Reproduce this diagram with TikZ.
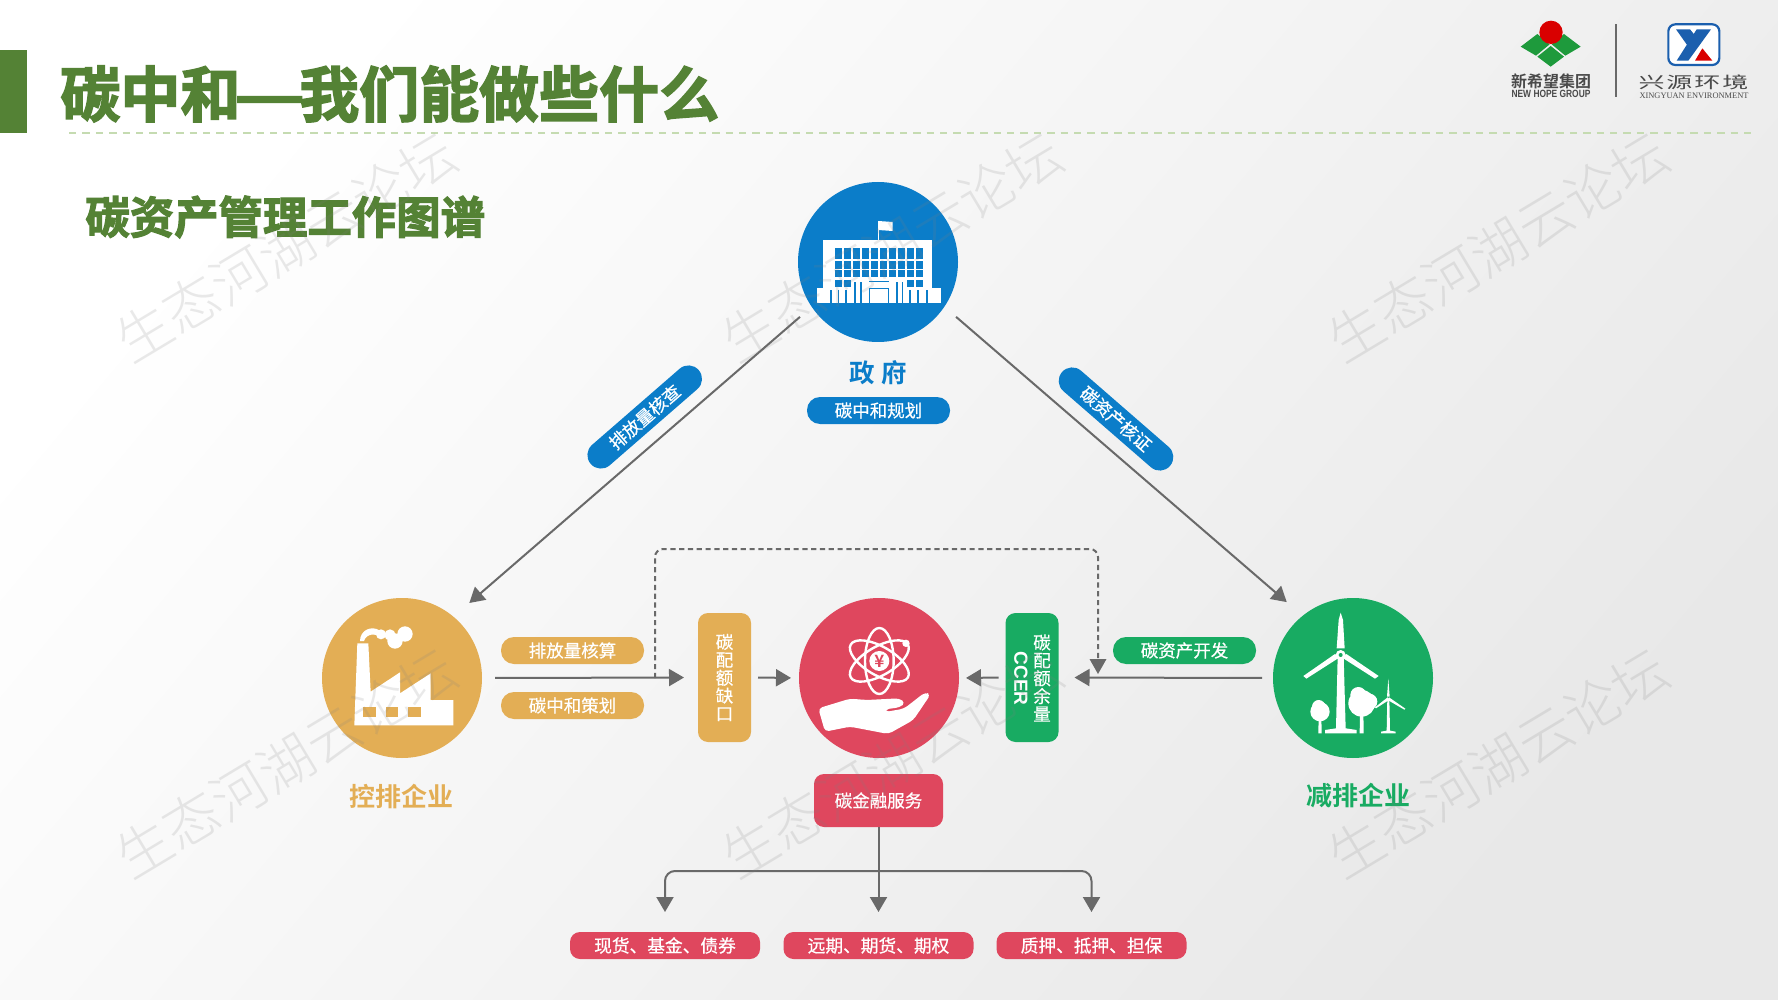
\documentclass[tikz,border=0pt]{standalone}
\usepackage{fontspec}
\usepackage{graphicx}
\usetikzlibrary{arrows.meta,shapes.geometric,calc}
\setmainfont{Noto Sans CJK SC}[FakeBold=.6]
\newfontfamily\heavyfont{Noto Sans CJK SC Bold}[FakeBold=2.6]
\newfontfamily\boldcjk{Noto Sans CJK SC Bold}
\newfontfamily\thinfont{Noto Sans CJK SC Light}
\newfontfamily\plainfont{Noto Sans CJK SC}
\newfontfamily\latinb{Liberation Sans Bold}
\newfontfamily\latins{Liberation Serif}
\newcommand{\fz}[1]{\fontsize{\dimexpr#1pt/2\relax}{\dimexpr#1pt/2\relax}\selectfont}
\definecolor{cBlue}{HTML}{0B7DC9}
\definecolor{cGold}{HTML}{E3AE55}
\definecolor{cRed}{HTML}{DF475E}
\definecolor{cGreen}{HTML}{18AB62}
\definecolor{cTitle}{HTML}{548235}
\definecolor{cLine}{HTML}{696969}
\definecolor{cDash}{HTML}{C5DBB1}
\definecolor{cLogoG}{HTML}{1E9A3C}
\definecolor{cLogoB}{HTML}{1B5FAE}
\definecolor{cLogoT}{HTML}{4A4A4A}
\tikzset{
  disc/.style={circle,fill=#1,minimum size=80pt,inner sep=0pt,outer sep=0pt},
  pill/.style={fill=#1,text=white,rounded corners=6.5pt,minimum width=71.5pt,minimum height=13.5pt,inner sep=0pt,outer sep=0pt,font=\fz{17.5}},
  tallbox/.style={fill=#1,text=white,rounded corners=5pt,minimum width=26.5pt,minimum height=64.5pt,inner sep=0pt,outer sep=0pt,align=center},
  lowpill/.style={fill=cRed,text=white,rounded corners=5pt,minimum width=95pt,minimum height=13.5pt,inner sep=0pt,outer sep=0pt,font=\fz{17.7}},
  flow/.style={draw=cLine,line width=1pt,-{Triangle[length=7.5pt,width=8.5pt]}},
  dashflow/.style={draw=cLine,line width=1pt,dash pattern=on 2.6pt off 1.8pt,rounded corners=4pt},
  wmark/.style={text=gray,opacity=.17,rotate=31,font=\thinfont\fz{55},inner sep=0pt},
  caption/.style={inner sep=0pt,font=\boldcjk\fz{26}},
}
\begin{document}
\begin{tikzpicture}[x=0.5pt,y=-0.5pt]
\useasboundingbox (0,0) rectangle (1778,1000);
\shade[shading=axis,top color=white,middle color=white!96.5!black,bottom color=white!91!black,shading angle=50] (0,0) rectangle (1778,1000);

% header
\fill[cTitle] (0,50) rectangle (27,133);
\node[anchor=west,inner sep=0pt,text=cTitle,font=\heavyfont\fz{60}] (title) at (60,94) {碳中和\hspace{-3pt}\scalebox{1.3}[1]{—}\hspace{-3pt}我们能做些什么};
\coordinate (ruleA) at (69,133);
\coordinate (ruleB) at (1755,133);
\draw[cDash,line width=1.3pt,dash pattern=on 3.7pt off 3pt] (ruleA) -- (ruleB);
\node[anchor=west,inner sep=0pt,text=cTitle,font=\heavyfont\fz{44.4}] (subtitle) at (85,217) {碳资产管理工作图谱};

% new hope logo
\begin{scope}[shift={(1500,15)},scale=1/3]
\fill[cLogoG] (62,95) -- (112,57) -- (149,88) -- (108,122) -- cycle;
\fill[cLogoG] (242,95) -- (192,57) -- (155,88) -- (196,122) -- cycle;
\fill[cLogoG] (152,155) -- (112,125) -- (152,93) -- (192,125) -- cycle;
\fill[red!85!black] (153,52) circle (35);
\end{scope}
\node[inner sep=0pt,text=cLogoT,font=\boldcjk\fz{16}] (nh1) at (1551,81.5) {新希望集团};
\node[inner sep=0pt,text=cLogoT] (nh2) at (1551,93.5) {\scalebox{.8}[1]{\latinb\fz{10.5}NEW HOPE GROUP}};
\fill[cLine] (1614.5,24) rectangle (1616.5,97);
% xingyuan logo
\begin{scope}[shift={(1630,15)},scale=1/3]
\draw[cLogoB,fill=white,line width=1.1pt,rounded corners=3.5pt] (115,28) rectangle (268,150);
\fill[cLogoB] (138,43) -- (180,43) -- (208,78) -- (184,108) -- cycle;
\fill[cLogoB] (200,43) -- (243,43) -- (175,137) -- (140,137) -- cycle;
\fill[red!85!black] (217,100) -- (247,137) -- (195,137) -- cycle;
\end{scope}
\node[inner sep=0pt,text=cLogoT] (xy1) at (1693.5,82.5) {\scalebox{1}[.62]{\plainfont\fz{26}兴\hspace{1pt}源\hspace{1pt}环\hspace{1pt}境}};
\node[inner sep=0pt,text=cLogoT] (xy2) at (1694,95.5) {\latins\fz{8.4}XINGYUAN ENVIRONMENT};

% main discs
\node[disc=cBlue] (gov) at (878,262) {};
\node[disc=cGold] (ctrl) at (402,678) {};
\node[disc=cRed] (fin) at (879,678) {};
\node[disc=cGreen] (cut) at (1353,678) {};

% government icon
\begin{scope}[shift={(780,160)},scale=1/3]
\fill[white] (128,240) rectangle (456,428);
\fill[white] (110,385) rectangle (482,428);
\foreach \c in {165,192,219,246,273,300,327,354,381,408}{
  \fill[cBlue] (\c,265) rectangle ++(20,32);
  \fill[cBlue] (\c,303) rectangle ++(20,23);
  \fill[cBlue] (\c,331) rectangle ++(20,21);
}
\foreach \c in {165,192,381,408}{\fill[cBlue] (\c,360) rectangle ++(20,21);}
\foreach \c in {150,173,196,222,240,348,365,388,412,438}{\fill[cBlue] (\c,390) rectangle ++(5,38);}
\fill[cBlue] (222,366) rectangle ++(5,30);
\fill[cBlue] (240,366) rectangle ++(5,30);
\fill[cBlue] (348,366) rectangle ++(5,30);
\fill[cBlue] (365,366) rectangle ++(5,30);
\draw[cBlue,line width=.6pt] (268,428) -- (268,385) -- (326,385) -- (326,428);
\draw[cBlue,line width=.5pt] (268,366) -- (326,366);
\draw[white,line width=.5pt] (295,240) -- (295,182);
\fill[white] (295,183) -- (338,186) -- (338,213) -- (295,210) -- cycle;
\end{scope}

% factory icon
\begin{scope}[shift={(300,580)},scale=1/3]
\fill[white] (172,190) -- (205,190) -- (212,335) -- (300,277) -- (300,340) -- (392,280) -- (392,360) -- (460,360) -- (460,436) -- (163,436) -- cycle;
\foreach \c in {190,257,325}{\fill[cGold] (\c,380) rectangle ++(38,32);}
\fill[white] (180,183) .. controls (180,150) and (215,135) .. (240,152) -- (250,175) .. controls (225,158) and (200,160) .. (192,183) -- cycle;
\fill[white] (243,163) circle (15);
\fill[white] (285,183) circle (23);
\fill[white] (270,165) circle (17);
\fill[white] (315,162) circle (23);
\end{scope}

% finance icon
\begin{scope}[shift={(800,600)},scale=1/3]
\foreach \a in {90,30,-30}{
  \draw[white,line width=1.2pt,rotate around={\a:(238,183)}] (238,183) ellipse [x radius=99,y radius=43];
}
\fill[white] (238,183) circle (30);
\fill[white] (318,130) circle (11);
\node[inner sep=0pt,text=cRed,font=\boldcjk\fz{17}] (yen) at (238,183) {¥};
\fill[white,rounded corners=2pt] (55,325) -- (150,296) -- (200,300) -- (298,295) -- (316,308) -- (300,322) -- (255,328) -- (255,336) -- (312,326) -- (375,277) -- (392,283) -- (340,360) -- (265,402) -- (150,380) -- (75,395) -- cycle;
\end{scope}

% wind icon
\begin{scope}[shift={(1275,600)},scale=1/3]
\fill[white] (197,38) -- (191,60) -- (185,145) -- (209,145) -- (204,60) -- cycle;
\fill[white] (200,172) -- (300,236) -- (311,228) -- (214,162) -- cycle;
\fill[white] (194,172) -- (94,236) -- (85,228) -- (180,162) -- cycle;
\fill[white] (188,170) -- (183,385) -- (150,390) -- (150,400) -- (245,400) -- (245,390) -- (212,385) -- (206,170) -- cycle;
\fill[white] (197,165) circle (15);
\fill[cGreen] (197,165) circle (6);
\fill[white] (135,335) circle (29);
\fill[white] (131,320) circle (20);
\fill[white] (131,350) -- (139,350) -- (140,400) -- (130,400) -- cycle;
\fill[white] (260,310) circle (40);
\fill[white] (250,285) circle (24);
\fill[white] (283,305) circle (24);
\fill[white] (255,330) -- (265,330) -- (266,400) -- (254,400) -- cycle;
\fill[white] (340,236) -- (336,290) -- (344,290) -- cycle;
\fill[white] (342,292) -- (391,326) -- (388,329) -- (338,300) -- cycle;
\fill[white] (338,292) -- (300,322) -- (303,325) -- (342,300) -- cycle;
\fill[white] (337,295) -- (335,392) -- (318,395) -- (318,400) -- (362,400) -- (362,395) -- (345,392) -- (343,295) -- cycle;
\end{scope}

% labels and pills
\node[inner sep=0pt,text=cBlue,font=\boldcjk\fz{25.5}] (govname) at (878,373) {政\hspace{3.5pt}府};
\node[pill=cBlue] (govplan) at (878.5,410.5) {碳中和规划};
\node[caption,text=cGold] (ctrlname) at (401,796) {控排企业};
\node[caption,text=cGreen] (cutname) at (1358,796) {减排企业};
\node[pill=cGold] (calc) at (572.5,650.5) {排放量核算};
\node[pill=cGold] (plan) at (572.5,705.5) {碳中和策划};
\node[pill=cGreen] (dev) at (1184.5,650.5) {碳资产开发};
\node[pill=cBlue,rotate=41,rounded corners=6.7pt] (audit) at (644.7,417) {排放量核查};
\node[pill=cBlue,rotate=-41,rounded corners=6.7pt] (verify) at (1116,419) {碳资产核证};
\node[tallbox=cGold,font=\fz{17.5}] (gap) at (724.5,677.5) {碳\\[.2pt]配\\[.2pt]额\\[.2pt]缺\\[.2pt]口};
\node[tallbox=cGreen] (surplus) at (1032,677.5) {};
\node[inner sep=0pt,align=center,text=white,font=\fz{17.5}] (surplustxt) at (1042,678) {碳\\[.2pt]配\\[.2pt]额\\[.2pt]余\\[.2pt]量};
\node[inner sep=0pt,rotate=-90,text=white] (ccer) at (1021,678.5) {\latinb\fz{19}CCER};
\node[fill=cRed,text=white,rounded corners=5pt,minimum width=64.5pt,minimum height=26.5pt,inner sep=0pt,outer sep=0pt,font=\fz{17.5}] (service) at (878.5,800.5) {碳金融服务};
\node[lowpill] (spot) at (665,945.5) {现货、基金、债券};
\node[lowpill] (fwd) at (878.5,945.5) {远期、期货、期权};
\node[lowpill] (pledge) at (1091.5,945.5) {质押、抵押、担保};

% connectors
\draw[flow,shorten <=7.75pt,shorten >=10.5pt] (gov.214) -- (ctrl.50);
\draw[flow,shorten <=7.75pt,shorten >=10.5pt] (gov.-34) -- (cut.129);
\draw[flow,shorten <=6.5pt,shorten >=7pt] (ctrl.east) -- (gap.west);
\draw[flow,shorten <=3.5pt,shorten >=4pt] (gap.east) -- (fin.west);
\draw[flow,shorten <=5.5pt,shorten >=8pt] (cut.west) -- (surplus.east);
\draw[flow,shorten <=3.5pt,shorten >=3.5pt] (surplus.west) -- (fin.east);
\coordinate (dashA) at (655,678);
\coordinate (dashTop) at (876,549);
\coordinate (dashB) at (1098,674);
\draw[dashflow] (dashA) -- (dashA |- dashTop) -- (dashB |- dashTop) -- ($(dashB)+(0,-14)$);
\path[fill=cLine] (dashB) -- ++(-8.5,-15) -- ++(17,0) -- cycle;
\coordinate (fork) at (878.5,871);
\draw[flow,shorten >=10pt] (service.south) -- (fwd.north);
\draw[flow,rounded corners=5pt,shorten >=10pt] (fork) -| (spot.north);
\draw[flow,rounded corners=5pt,shorten >=10pt] (fork) -| (pledge.north);

% watermark
\node[wmark] (wm1) at (286,247) {生态河湖云论坛};
\node[wmark] (wm2) at (892,247) {生态河湖云论坛};
\node[wmark] (wm3) at (1498,247) {生态河湖云论坛};
\node[wmark] (wm4) at (286,763) {生态河湖云论坛};
\node[wmark] (wm5) at (892,763) {生态河湖云论坛};
\node[wmark] (wm6) at (1498,763) {生态河湖云论坛};
\end{tikzpicture}
\end{document}
